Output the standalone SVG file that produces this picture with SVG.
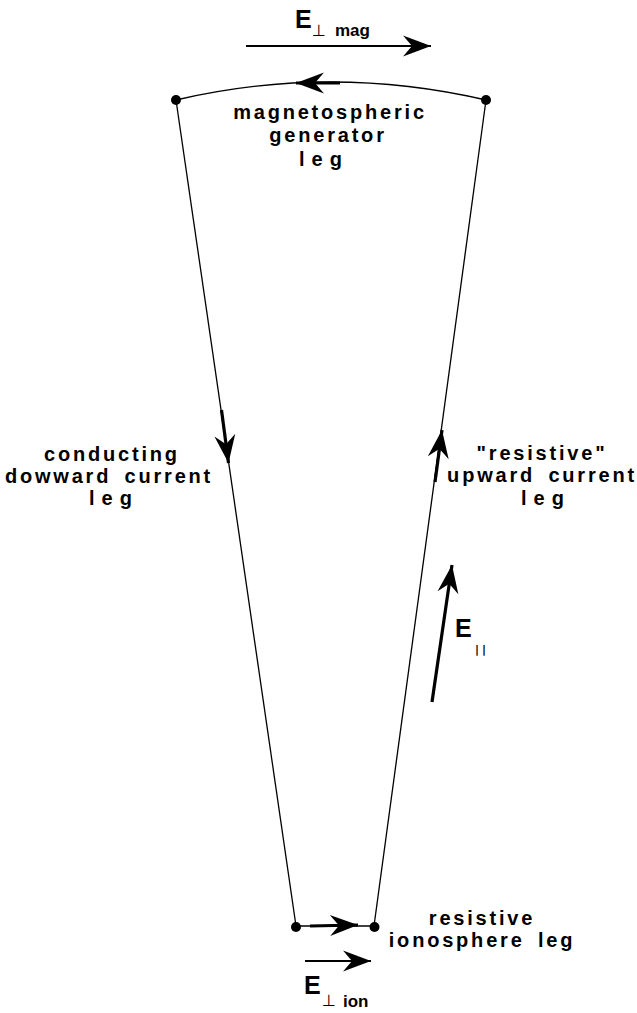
<svg xmlns="http://www.w3.org/2000/svg" width="637" height="1013" viewBox="0 0 637 1013">
<style>
.thin{fill:none;stroke:#000;stroke-width:1.3}
.shaft{fill:none;stroke:#000;stroke-width:3.2}
.vec{fill:none;stroke:#000;stroke-width:2}
.dot{fill:#000}
.lbl{font-family:"Liberation Sans",Arial,Helvetica,sans-serif;font-weight:bold;font-size:20px;letter-spacing:2.8px;text-anchor:middle;fill:#000}
.leg{letter-spacing:7px}
.E{font-family:"Liberation Sans",Arial,Helvetica,sans-serif;font-weight:bold;font-size:25px;fill:#000}
.sub{font-family:"Liberation Sans",Arial,Helvetica,sans-serif;font-weight:bold;font-size:17px;fill:#000}
.perp{font-family:"DejaVu Sans",sans-serif;font-size:16px;fill:#000}
.par{font-family:"DejaVu Sans",sans-serif;font-weight:bold;font-size:11px;letter-spacing:3px;fill:#000}
</style>
<defs>
<marker id="ah" markerUnits="userSpaceOnUse" viewBox="-30 -12 32 24" markerWidth="32" markerHeight="24" refX="0" refY="0" orient="auto">
<path d="M0,0 L-28,-10.5 L-19,0 L-28,10.5 Z" fill="#000"/>
</marker>
</defs>
<g id="connectors">
<path id="gen-leg" class="thin" d="M176,100 Q331,64 486,100"/>
<path id="down-leg" class="thin" d="M176,100 L296,926"/>
<path id="up-leg" class="thin" d="M374,926 L486,100"/>
<path id="ion-leg" class="thin" d="M296,926 L374,926"/>
<path id="gen-current" class="shaft" d="M340,83 L296,83" marker-end="url(#ah)"/>
<path id="down-current" class="shaft" d="M221.5,410 L228.5,463" marker-end="url(#ah)"/>
<path id="up-current" class="shaft" d="M435,482 L442,430" marker-end="url(#ah)"/>
<path id="ion-current" class="shaft" d="M310,926 L358,925" marker-end="url(#ah)"/>
<path id="E-mag-arrow" class="vec" d="M246,46 L431,46" marker-end="url(#ah)"/>
<path id="E-par-arrow" class="shaft" d="M432,702 L452,565" marker-end="url(#ah)"/>
<path id="E-ion-arrow" class="vec" d="M305,961 L371,961" marker-end="url(#ah)"/>
</g>
<g id="node-top-left"><circle class="dot" cx="176" cy="100" r="5"/></g>
<g id="node-top-right"><circle class="dot" cx="486" cy="100" r="5"/></g>
<g id="node-bottom-left"><circle class="dot" cx="296" cy="927" r="5"/></g>
<g id="node-bottom-right"><circle class="dot" cx="374.5" cy="927" r="5"/></g>
<g id="label-generator">
<text class="lbl" x="330" y="119">magnetospheric</text>
<text class="lbl" x="328" y="142">generator</text>
<text class="lbl leg" x="324" y="166">leg</text>
</g>
<g id="label-downward">
<text class="lbl" x="112" y="461">conducting</text>
<text class="lbl" x="109" y="483" word-spacing="5">dowward current</text>
<text class="lbl leg" x="114" y="505">leg</text>
</g>
<g id="label-upward">
<text class="lbl" x="542" y="460">"resistive"</text>
<text class="lbl" x="542" y="482" word-spacing="5">upward current</text>
<text class="lbl leg" x="546" y="505">leg</text>
</g>
<g id="label-ionosphere">
<text class="lbl" x="482" y="925">resistive</text>
<text class="lbl" x="482" y="947" word-spacing="5">ionosphere leg</text>
</g>
<g id="label-E-mag">
<text class="E" x="295" y="28">E</text>
<text class="perp" x="312" y="36">⊥</text>
<text class="sub" x="335" y="36">mag</text>
</g>
<g id="label-E-par">
<text class="E" x="455" y="637">E</text>
<text class="par" x="475" y="653">||</text>
</g>
<g id="label-E-ion">
<text class="E" x="304" y="994">E</text>
<text class="perp" x="322" y="1006">⊥</text>
<text class="sub" x="343" y="1007">ion</text>
</g>
</svg>
